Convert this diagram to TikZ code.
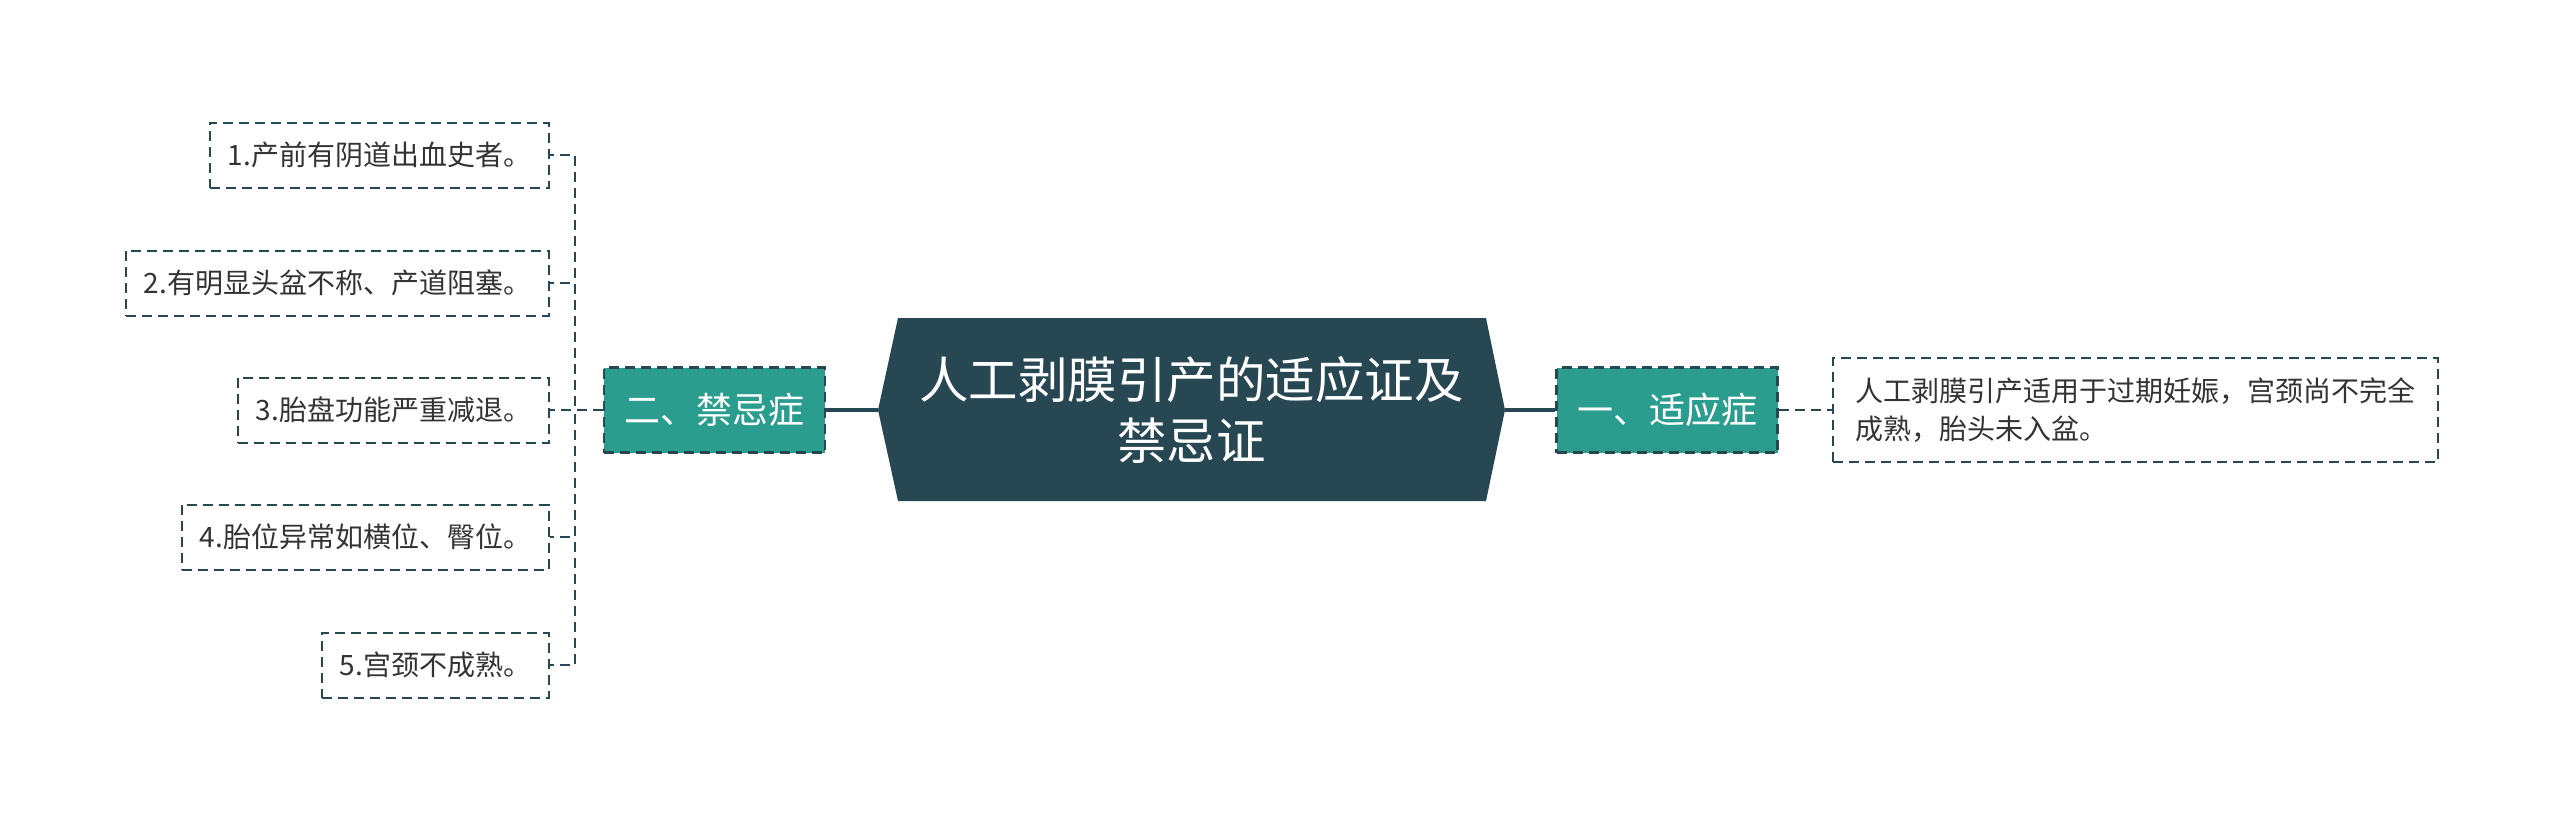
\documentclass[tikz,border=0pt]{standalone}
\usepackage{fontspec}
\setmainfont{Noto Sans CJK SC}
\definecolor{darkslate}{HTML}{274753}
\definecolor{tealbox}{HTML}{2A9D8F}
\definecolor{leaftext}{HTML}{333333}

\begin{document}
\begin{tikzpicture}[x=1pt, y=-1pt,
    roottext/.style={text=white, align=center, minimum width=627pt, minimum height=183pt,
        inner sep=0pt, font=\fontsize{49.5}{61}\selectfont},
    branch/.style={fill=tealbox, draw=darkslate, line width=2.5pt, dash pattern=on 10pt off 6pt,
        text=white, minimum width=221pt, minimum height=85pt, inner sep=0pt,
        font=\fontsize{36}{44}\selectfont},
    leaf/.style={draw=darkslate, line width=2pt, dash pattern=on 10pt off 6pt, text=leaftext,
        minimum height=65pt, inner xsep=18pt, inner ysep=10pt, align=left,
        font=\fontsize{28}{37.5}\selectfont},
    link/.style={draw=darkslate, line width=2pt, dash pattern=on 10pt off 6pt},
    trunk/.style={draw=darkslate, line width=4pt}]
    \useasboundingbox (0,0) rectangle (2560,822);

    % central hexagon
    \fill[darkslate] (878,410) -- (898,318) -- (1486,318) -- (1505,410) -- (1486,501) -- (898,501) -- cycle;
    \node[roottext] (root) at (1191.5,410) {人工剥膜引产的适应证及\\禁忌证};

    % branches
    \node[branch] (cons) at (714.5,410) {二、禁忌症};
    \node[branch] (ind) at (1667,410) {一、适应症};

    % right leaf
    \node[leaf, anchor=west, minimum width=605pt, minimum height=104pt, inner xsep=14pt] (indleaf) at (1832,410)
        {人工剥膜引产适用于过期妊娠，宫颈尚不完全\\成熟，胎头未入盆。};

    % left leaves
    \node[leaf, anchor=east] (c1) at (550,155) {1.产前有阴道出血史者。};
    \node[leaf, anchor=east] (c2) at (550,283) {2.有明显头盆不称、产道阻塞。};
    \node[leaf, anchor=east] (c3) at (550,410) {3.胎盘功能严重减退。};
    \node[leaf, anchor=east] (c4) at (550,537) {4.胎位异常如横位、臀位。};
    \node[leaf, anchor=east] (c5) at (550,665) {5.宫颈不成熟。};

    \draw[trunk] (root.west) -- (cons.east);
    \draw[trunk] (root.east) -- (ind.west);
    \draw[link] (ind.east) -- (indleaf.west);
    \foreach \n in {c1,c2,c3,c4,c5}
        \draw[link] (cons.west) -- (575,410) |- (\n.east);
\end{tikzpicture}
\end{document}
